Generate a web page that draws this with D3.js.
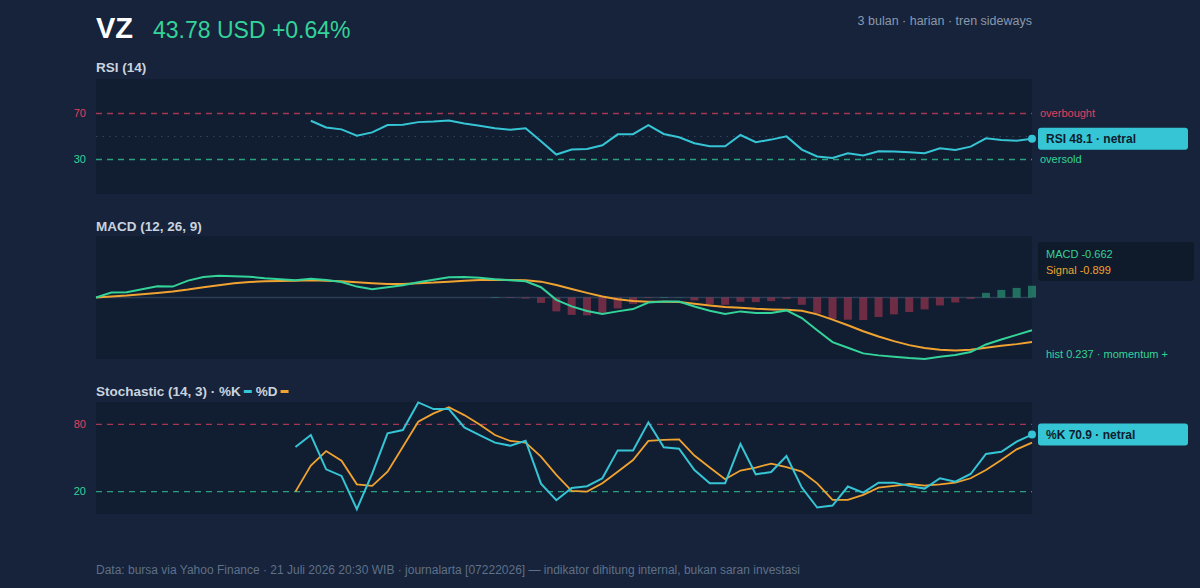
<!DOCTYPE html>
<meta charset="utf-8">
<script src="https://cdn.jsdelivr.net/npm/d3@7"></script>
<style>
  body { margin: 0; background: #16233a; }
  text { font-family: "Liberation Sans", Arial, sans-serif; }
</style>
<body>
<div id="chart"></div>
<script>
    // values, one entry per trading day (62 days)
    var rsi = [null, null, null, null, null, null, null, null, null, null, null, null, null, null,
        63.7, 57.9, 56.2, 50.7, 53.6, 59.9, 60.2, 62.5, 63.1, 64.0, 61.4, 59.4, 57.1, 55.9, 57.1, 45.8,
        34.3, 38.6, 39.2, 42.4, 51.9, 52.0, 59.9, 52.2, 49.3, 44.1, 41.5, 41.5, 51.3, 45.0, 47.3, 50.1,
        38.6, 32.6, 31.4, 35.5, 33.5, 37.2, 36.9, 36.3, 35.5, 39.8, 38.3, 41.2, 48.4, 47.0, 46.4, 48.1]

    var macd = [0, 0.10, 0.107, 0.167, 0.227, 0.22, 0.34, 0.413, 0.44, 0.427,
        0.42, 0.387, 0.367, 0.347, 0.38, 0.353, 0.313, 0.22, 0.167, 0.207,
        0.247, 0.307, 0.36, 0.407, 0.413, 0.40, 0.367, 0.347, 0.327, 0.207,
        -0.047, -0.18, -0.273, -0.333, -0.28, -0.233, -0.10, -0.08, -0.08, -0.18,
        -0.267, -0.333, -0.28, -0.313, -0.313, -0.26, -0.413, -0.66, -0.90, -1.013,
        -1.127, -1.167, -1.193, -1.22, -1.24, -1.193, -1.16, -1.10, -0.947, -0.847,
        -0.753, -0.662]

    var signal = [0, 0.02, 0.04, 0.067, 0.093, 0.12, 0.16, 0.207, 0.247, 0.287,
        0.313, 0.327, 0.333, 0.34, 0.347, 0.34, 0.327, 0.307, 0.287, 0.273,
        0.273, 0.287, 0.30, 0.32, 0.34, 0.353, 0.36, 0.353, 0.347, 0.32,
        0.253, 0.173, 0.093, 0.02, -0.033, -0.07, -0.087, -0.087, -0.093, -0.127,
        -0.16, -0.193, -0.207, -0.227, -0.24, -0.247, -0.267, -0.34, -0.447, -0.56,
        -0.68, -0.787, -0.88, -0.96, -1.02, -1.053, -1.067, -1.053, -1.013, -0.973,
        -0.94, -0.899]

    var hist = [null, null, null, null, null, null, null, null, null, null, null, null, null,
        null, null, null, null, null, null, null, null, null, null, null, null, null,
        0.01, -0.01, -0.02, -0.11, -0.28, -0.35, -0.36, -0.31, -0.22, -0.13,
        -0.01, 0.01, 0.005, -0.06, -0.133, -0.147, -0.087, -0.093, -0.073, -0.027,
        -0.147, -0.32, -0.433, -0.447, -0.453, -0.393, -0.34, -0.293, -0.24, -0.16,
        -0.10, -0.027, 0.093, 0.153, 0.193, 0.237]

    var stochK = [null, null, null, null, null, null, null, null, null, null, null, null, null,
        59.8, 70.5, 39.9, 34.0, 4.3, 36, 72.0, 75.0, 99.6, 93.7, 93.7, 77.3, 70.5, 63.7,
        61.0, 65.4, 27.1, 12.3, 23.3, 24.8, 31.9, 56.8, 56.8, 81.8, 59.5, 58.3, 39.3, 27.4,
        27.4, 62.5, 35.4, 37.5, 51.8, 23.6, 5.8, 7.5, 24.5, 19.1, 28.0, 28.0, 25.1, 22.7,
        31.9, 28.9, 35.7, 53.6, 55.6, 64.6, 70.9]

    var stochD = [null, null, null, null, null, null, null, null, null, null, null, null, null,
        20.0, 43.2, 56.2, 47.6, 26.5, 25.1, 37.8, 60.1, 82.4, 89.8, 95.4, 88.3, 80.0, 70.5,
        65.2, 63.7, 51.2, 34.9, 20.6, 20.0, 27.4, 37.8, 48.2, 65.2, 66.1, 66.7, 52.2, 41.5,
        31.1, 38.8, 41.5, 45.0, 41.8, 37.8, 27.4, 12.6, 12.6, 17.1, 23.6, 25.1, 26.8, 25.4,
        26.5, 28.0, 31.9, 39.3, 48.2, 57.7, 63.7]

    var rsiLevels = [70, 30]
    var stochLevels = [80, 20]

    var width = 1200, height = 588
    var left = 96, right = 1032, panelRight = 1032
    var bg = "#16233a", panelBg = "#111e32"
    var cyan = "#35c5d5", green = "#34d399", orange = "#f0a330", red = "#e0415e"

    var svg = d3.select("#chart").append("svg")
        .attr("width", width)
        .attr("height", height)

    svg.append("rect").attr("width", width).attr("height", height).attr("fill", bg)

    var x = d3.scaleLinear().domain([0, macd.length - 1]).range([left, right])

    // header
    svg.append("text").attr("x", 96).attr("y", 38)
        .style("font-size", "29px").style("font-weight", "bold").attr("fill", "#ffffff")
        .text("VZ")
    svg.append("text").attr("x", 153).attr("y", 38)
        .style("font-size", "23px").attr("fill", green)
        .text("43.78 USD +0.64%")
    svg.append("text").attr("x", 1032).attr("y", 25).attr("text-anchor", "end")
        .style("font-size", "12.5px").attr("fill", "#8a99ae")
        .text("3 bulan \u00b7 harian \u00b7 tren sideways")

    function panel(top, h, title, titleY) {
        svg.append("rect").attr("x", left).attr("y", top)
            .attr("width", panelRight - left).attr("height", h).attr("fill", panelBg)
        return svg.append("text").attr("x", 96).attr("y", titleY)
            .style("font-size", "13.5px").style("font-weight", "bold").attr("fill", "#c9d3df")
            .text(title)
    }

    function line(y, data) {
        return d3.line()
            .defined(function(d) { return d != null })
            .x(function(d, i) { return x(i) })
            .y(function(d) { return y(d) })(data)
    }

    function levelLines(y, levels, labels) {
        levels.forEach(function(v, k) {
            var c = k == 0 ? red : green
            svg.append("line").attr("x1", left).attr("x2", panelRight)
                .attr("y1", y(v)).attr("y2", y(v))
                .attr("stroke", c).attr("stroke-opacity", 0.72)
                .attr("stroke-width", 1.3).attr("stroke-dasharray", "6,5")
            svg.append("text").attr("x", 86).attr("y", y(v)).attr("dy", "0.35em")
                .attr("text-anchor", "end").style("font-size", "11px").attr("fill", c)
                .text(v)
            if (labels) {
                svg.append("text").attr("x", 1040).attr("y", y(v)).attr("dy", "0.35em")
                    .style("font-size", "11px").attr("fill", c)
                    .text(labels[k])
            }
        })
    }

    function badge(cy, label) {
        svg.append("rect").attr("x", 1038).attr("y", cy - 11)
            .attr("width", 150).attr("height", 22).attr("rx", 3).attr("fill", cyan)
        svg.append("text").attr("x", 1046).attr("y", cy).attr("dy", "0.36em")
            .style("font-size", "12px").style("font-weight", "bold").attr("fill", "#0e1b2c")
            .text(label)
    }

    // ---- RSI
    panel(79, 115, "RSI (14)", 72)
    var yRsi = d3.scaleLinear().domain([0, 100]).range([194, 79])
    svg.append("line").attr("x1", left).attr("x2", panelRight)
        .attr("y1", yRsi(50)).attr("y2", yRsi(50))
        .attr("stroke", "#34425a").attr("stroke-width", 1.2).attr("stroke-dasharray", "1.5,5")
    levelLines(yRsi, rsiLevels, ["overbought", "oversold"])
    svg.append("path").attr("d", line(yRsi, rsi))
        .attr("fill", "none").attr("stroke", cyan).attr("stroke-width", 2)
    var lastR = rsi[rsi.length - 1]
    svg.append("circle").attr("cx", x(rsi.length - 1)).attr("cy", yRsi(lastR)).attr("r", 4).attr("fill", cyan)
    badge(yRsi(lastR), "RSI " + lastR.toFixed(1) + " \u00b7 netral")

    // ---- MACD
    panel(236, 123, "MACD (12, 26, 9)", 231)
    var m = d3.max(macd.concat(signal).map(Math.abs))
    var yMacd = d3.scaleLinear().domain([-m, m]).range([359, 236])
    svg.append("line").attr("x1", left).attr("x2", panelRight)
        .attr("y1", yMacd(0)).attr("y2", yMacd(0))
        .attr("stroke", "#2f3d53").attr("stroke-width", 1.5)
    svg.selectAll(".bar")
        .data(hist.map(function(d, i) { return {i: i, v: d} }).filter(function(d) { return d.v != null }))
        .enter().append("rect")
        .attr("x", function(d) { return x(d.i) - 4 })
        .attr("width", 8)
        .attr("y", function(d) { return Math.min(yMacd(d.v), yMacd(0)) })
        .attr("height", function(d) { return Math.abs(yMacd(d.v) - yMacd(0)) })
        .attr("fill", function(d) { return d.v >= 0 ? green : red })
        .attr("fill-opacity", 0.45)
    svg.append("path").attr("d", line(yMacd, signal))
        .attr("fill", "none").attr("stroke", orange).attr("stroke-width", 2)
    svg.append("path").attr("d", line(yMacd, macd))
        .attr("fill", "none").attr("stroke", green).attr("stroke-width", 2)

    svg.append("rect").attr("x", 1038).attr("y", 242).attr("width", 156).attr("height", 39)
        .attr("rx", 4).attr("fill", "#0f1a2b")
    svg.append("text").attr("x", 1046).attr("y", 258).style("font-size", "11px").attr("fill", green)
        .text("MACD " + macd[macd.length - 1].toFixed(3))
    svg.append("text").attr("x", 1046).attr("y", 274).style("font-size", "11px").attr("fill", orange)
        .text("Signal " + signal[signal.length - 1].toFixed(3))
    svg.append("text").attr("x", 1046).attr("y", 358).style("font-size", "11px").attr("fill", green)
        .text("hist " + hist[hist.length - 1].toFixed(3) + " \u00b7 momentum +")

    // ---- Stochastic
    var t = panel(402, 112, "Stochastic (14, 3) \u00b7 %K", 396)
    var w1 = t.node().getComputedTextLength()
    svg.append("rect").attr("x", 96 + w1 + 3).attr("y", 390).attr("width", 8).attr("height", 3).attr("fill", cyan)
    var t2 = svg.append("text").attr("x", 96 + w1 + 15).attr("y", 396)
        .style("font-size", "13.5px").style("font-weight", "bold").attr("fill", "#c9d3df")
        .text("%D")
    var w2 = t2.node().getComputedTextLength()
    svg.append("rect").attr("x", 96 + w1 + 15 + w2 + 3).attr("y", 390).attr("width", 8).attr("height", 3).attr("fill", orange)

    var ySt = d3.scaleLinear().domain([0, 100]).range([514, 402])
    levelLines(ySt, stochLevels, null)
    svg.append("path").attr("d", line(ySt, stochD))
        .attr("fill", "none").attr("stroke", orange).attr("stroke-width", 1.8)
    svg.append("path").attr("d", line(ySt, stochK))
        .attr("fill", "none").attr("stroke", cyan).attr("stroke-width", 2)
    var lastK = stochK[stochK.length - 1]
    svg.append("circle").attr("cx", x(stochK.length - 1)).attr("cy", ySt(lastK)).attr("r", 4).attr("fill", cyan)
    badge(ySt(lastK), "%K " + lastK.toFixed(1) + " \u00b7 netral")

    // footer
    svg.append("text").attr("x", 96).attr("y", 574)
        .style("font-size", "12px").attr("fill", "#5f7088")
        .text("Data: bursa via Yahoo Finance \u00b7 21 Juli 2026 20:30 WIB \u00b7 journalarta [07222026] \u2014 indikator dihitung internal, bukan saran investasi")
</script>
</body>
